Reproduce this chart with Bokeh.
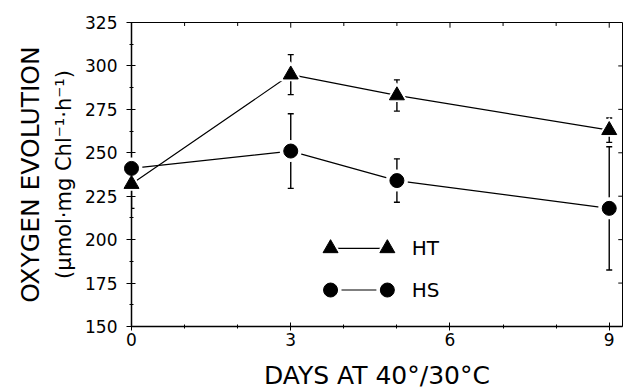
from bokeh.plotting import figure
from bokeh.models import FixedTicker, Range1d, Whisker, ColumnDataSource, Label, TeeHead, Title
from bokeh.embed import file_html
from bokeh.resources import INLINE

# ---- data ----
days = [0, 3, 5, 9]
ht = [232, 295, 283, 263]
ht_err = [14, 11.5, 9, 7]
hs = [241, 251, 234, 218]
hs_err = [0, 21.5, 12.5, 35.5]

x_ticks = [0, 3, 6, 9]
x_minor = [1, 2, 4, 5, 7, 8]
y_ticks = [150, 175, 200, 225, 250, 275, 300, 325]
y_minor = [162.5, 187.5, 212.5, 237.5, 262.5, 287.5, 312.5]

X_MAX = 9.25
Y_MIN, Y_MAX = 150, 325

# legend layout (not data)
leg_x = [3.75, 4.82]
leg_y_ht = 195
leg_y_hs = 171
leg_text_x = 5.28

FONT = "DejaVu Sans"

p = figure(width=632, height=392, x_range=Range1d(0, X_MAX), y_range=Range1d(Y_MIN, Y_MAX),
           output_backend="svg", toolbar_location=None,
           min_border_left=131, min_border_right=10, min_border_top=22, min_border_bottom=66)
p.grid.visible = False
p.outline_line_color = "black"
p.outline_line_width = 1

# bottom axis
xa = p.xaxis[0]
xa.ticker = FixedTicker(ticks=x_ticks, minor_ticks=x_minor)
xa.axis_line_width = 1.5
xa.major_tick_in = 4
xa.major_tick_out = 4
xa.minor_tick_in = 2
xa.minor_tick_out = 2
xa.major_label_text_font = FONT
xa.major_label_text_font_size = "17px"
xa.major_label_text_color = "black"
xa.major_label_standoff = 2
xa.axis_label = "DAYS AT 40°/30°C"
xa.axis_label_text_font = FONT
xa.axis_label_text_font_size = "25px"
xa.axis_label_text_font_style = "normal"
xa.axis_label_text_color = "black"
xa.axis_label_standoff = 12

# left axis
ya = p.yaxis[0]
ya.ticker = FixedTicker(ticks=y_ticks, minor_ticks=y_minor)
ya.axis_line_width = 1.5
ya.major_tick_in = 4
ya.major_tick_out = 5
ya.minor_tick_in = 2
ya.minor_tick_out = 2
ya.major_label_text_font = FONT
ya.major_label_text_font_size = "17px"
ya.major_label_text_color = "black"
ya.major_label_standoff = 9
ya.axis_label = "(μmol·mg Chl⁻¹·h⁻¹)"
ya.axis_label_text_font = FONT
ya.axis_label_text_font_size = "21px"
ya.axis_label_text_font_style = "normal"
ya.axis_label_text_color = "black"
ya.axis_label_standoff = 6

# outer vertical title
p.add_layout(Title(text="OXYGEN EVOLUTION", align="center", text_font=FONT,
                   text_font_size="25px", text_font_style="normal", text_color="black",
                   standoff=10), "left")

# tick marks on the top and right frame edges
p.segment(x0=x_ticks, y0=[Y_MAX] * len(x_ticks), x1=x_ticks, y1=[Y_MAX - 3] * len(x_ticks),
          line_color="black", line_width=1)
p.segment(x0=x_minor, y0=[Y_MAX] * len(x_minor), x1=x_minor, y1=[Y_MAX - 2] * len(x_minor),
          line_color="black", line_width=1)
p.segment(x0=[X_MAX] * len(y_ticks), y0=y_ticks, x1=[X_MAX - 0.08] * len(y_ticks), y1=y_ticks,
          line_color="black", line_width=1)

src_ht = ColumnDataSource(dict(x=days, y=ht,
                               lo=[v - e for v, e in zip(ht, ht_err)],
                               hi=[v + e for v, e in zip(ht, ht_err)]))
src_hs = ColumnDataSource(dict(x=days, y=hs,
                               lo=[v - e for v, e in zip(hs, hs_err)],
                               hi=[v + e for v, e in zip(hs, hs_err)]))

# lines
p.line("x", "y", source=src_ht, line_color="black", line_width=1.2)
p.line("x", "y", source=src_hs, line_color="black", line_width=1.2)

# error bars
for src in (src_ht, src_hs):
    w = Whisker(base="x", upper="hi", lower="lo", source=src, line_color="black", line_width=1.4,
                upper_head=TeeHead(size=6, line_color="black", line_width=1.4),
                lower_head=TeeHead(size=6, line_color="black", line_width=1.4))
    p.add_layout(w)

# white halos then markers
p.scatter("x", "y", source=src_ht, marker="triangle", size=23, fill_color="white", line_color=None, level="overlay")
p.scatter("x", "y", source=src_hs, marker="circle", size=22, fill_color="white", line_color=None, level="overlay")
p.scatter("x", "y", source=src_ht, marker="triangle", size=15, fill_color="black", line_color="black", level="overlay")
p.scatter("x", "y", source=src_hs, marker="circle", size=14, fill_color="black", line_color="black", level="overlay")

# legend drawn manually
p.line(leg_x, [leg_y_ht, leg_y_ht], line_color="black", line_width=1.2)
p.line(leg_x, [leg_y_hs, leg_y_hs], line_color="black", line_width=1.2)
p.scatter(leg_x, [leg_y_ht, leg_y_ht], marker="triangle", size=23, fill_color="white", line_color=None, level="overlay")
p.scatter(leg_x, [leg_y_hs, leg_y_hs], marker="circle", size=22, fill_color="white", line_color=None, level="overlay")
p.scatter(leg_x, [leg_y_ht, leg_y_ht], marker="triangle", size=15, fill_color="black", line_color="black", level="overlay")
p.scatter(leg_x, [leg_y_hs, leg_y_hs], marker="circle", size=14, fill_color="black", line_color="black", level="overlay")
for txt, yy in (("HT", leg_y_ht), ("HS", leg_y_hs)):
    p.add_layout(Label(x=leg_text_x, y=yy, text=txt, text_font=FONT, text_font_size="20px",
                       text_baseline="middle", text_align="left", text_color="black"))

open("out.html", "w").write(file_html(p, INLINE))
